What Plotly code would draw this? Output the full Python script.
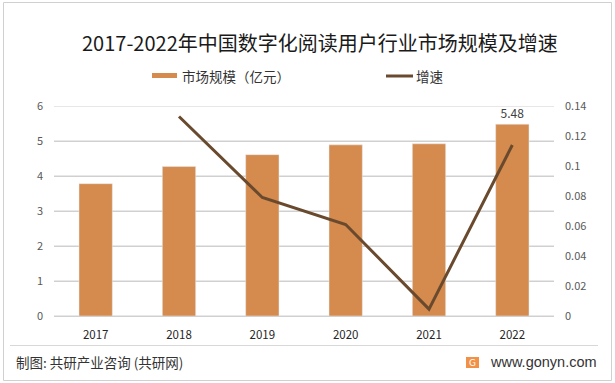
import plotly.graph_objects as go

years = ["2017", "2018", "2019", "2020", "2021", "2022"]
market_size = [3.78, 4.27, 4.61, 4.89, 4.92, 5.48]
growth = [None, 0.133, 0.079, 0.061, 0.0046, 0.114]
bar_labels = ["", "", "", "", "", "5.48"]
left_ticks = [0, 1, 2, 3, 4, 5, 6]

title_text = "2017-2022年中国数字化阅读用户行业市场规模及增速"
bar_name = "市场规模（亿元）"
line_name = "增速"
source_text = "制图: 共研产业咨询 (共研网)"
site_text = "www.gonyn.com"

CJK = "Noto Sans CJK SC, Noto Sans, sans-serif"
BAR_C = "#D48B4D"
LINE_C = "#6A4A2E"
GRID_C = "#D0D0D0"

W, H = 615, 383
ML, MR, MT, MB = 54, 61, 106, 67   # plot height 210 -> 35 px per unit (crisp gridlines)

fig = go.Figure()
fig.add_trace(go.Bar(
    x=years, y=market_size, name=bar_name, marker_color=BAR_C,
    width=0.4, text=bar_labels, textposition="outside",
    textfont=dict(size=12, color="#404040", family=CJK),
    cliponaxis=False, yaxis="y",
))
fig.add_trace(go.Scatter(
    x=years, y=growth, name=line_name, mode="lines",
    line=dict(color=LINE_C, width=3), yaxis="y2", connectgaps=False,
))

fig.update_layout(
    width=W, height=H,
    margin=dict(l=ML, r=MR, t=MT, b=MB),
    paper_bgcolor="white", plot_bgcolor="rgba(0,0,0,0)",
    font=dict(family=CJK, color="#595959", size=11),
    showlegend=False,
    xaxis=dict(showgrid=False, showline=False, ticks="",
               ticklabelstandoff=10,
               tickfont=dict(size=11.5, color="#262626")),
    yaxis=dict(range=[0, 6], tickvals=left_ticks, showgrid=True, gridcolor=GRID_C,
               gridwidth=1, zeroline=True, zerolinecolor=GRID_C, zerolinewidth=1,
               showline=False, ticks="",
               ticklabelstandoff=10,
               tickfont=dict(size=11, color="#595959")),
    yaxis2=dict(range=[0, 0.14], dtick=0.02, overlaying="y", side="right",
                showgrid=False, zeroline=False, showline=False, ticks="",
                ticklabelstandoff=10,
                tickfont=dict(size=11, color="#595959")),
)

# horizontal gridlines at the left-axis ticks, in the subplot's lower layer
for t in left_ticks:
    fig.add_shape(type="line", xref="x domain", yref="y", x0=0, x1=1, y0=t, y1=t,
                  line=dict(color=GRID_C, width=1), layer="below")


def px_x(px):
    return (px - ML) / (W - ML - MR)


def px_y(py):
    return (H - MB - py) / (H - MT - MB)


fig.add_annotation(text=title_text, x=px_x(320), y=px_y(43), xref="paper", yref="paper",
                   showarrow=False, xanchor="center", yanchor="middle",
                   font=dict(size=20, color="#1a1a1a", family=CJK))

# Legend (custom)
fig.add_shape(type="rect", xref="paper", yref="paper",
              x0=px_x(152), x1=px_x(177), y0=px_y(73), y1=px_y(78),
              fillcolor=BAR_C, line=dict(width=0))
fig.add_annotation(text=bar_name, x=px_x(180), y=px_y(76), xref="paper", yref="paper",
                   showarrow=False, xanchor="left", yanchor="middle",
                   font=dict(size=13.5, color="#333333", family=CJK))
fig.add_shape(type="line", xref="paper", yref="paper",
              x0=px_x(386), x1=px_x(413), y0=px_y(76), y1=px_y(76),
              line=dict(color=LINE_C, width=3))
fig.add_annotation(text=line_name, x=px_x(414), y=px_y(76), xref="paper", yref="paper",
                   showarrow=False, xanchor="left", yanchor="middle",
                   font=dict(size=13.5, color="#333333", family=CJK))

# Separator line and footer
fig.add_shape(type="line", xref="paper", yref="paper",
              x0=px_x(10), x1=px_x(598), y0=px_y(345.5), y1=px_y(345.5),
              line=dict(color="#D8D8D8", width=1))
fig.add_annotation(text=source_text, x=px_x(14), y=px_y(362), xref="paper", yref="paper",
                   showarrow=False, xanchor="left", yanchor="middle",
                   font=dict(size=13.5, color="#333333", family=CJK))
fig.add_shape(type="rect", xref="paper", yref="paper",
              x0=px_x(466), x1=px_x(479), y0=px_y(357), y1=px_y(368),
              fillcolor="#F29046", line=dict(width=0))
fig.add_annotation(text="G", x=px_x(472.5), y=px_y(362.5), xref="paper", yref="paper",
                   showarrow=False, xanchor="center", yanchor="middle",
                   font=dict(size=9, color="white", family="DejaVu Sans"))
fig.add_annotation(text=site_text, x=px_x(488), y=px_y(362), xref="paper", yref="paper",
                   showarrow=False, xanchor="left", yanchor="middle",
                   font=dict(size=14.5, color="#333333", family="Liberation Sans, Arial, sans-serif"))

# Outer border
fig.add_shape(type="rect", xref="paper", yref="paper",
              x0=px_x(3.5), x1=px_x(611.5), y0=px_y(2.5), y1=px_y(380.5),
              line=dict(color="#D0D0D0", width=1), fillcolor="rgba(0,0,0,0)")

fig.write_html("out.html", config={"displayModeBar": False},
               post_script="document.body.style.margin='0';")
